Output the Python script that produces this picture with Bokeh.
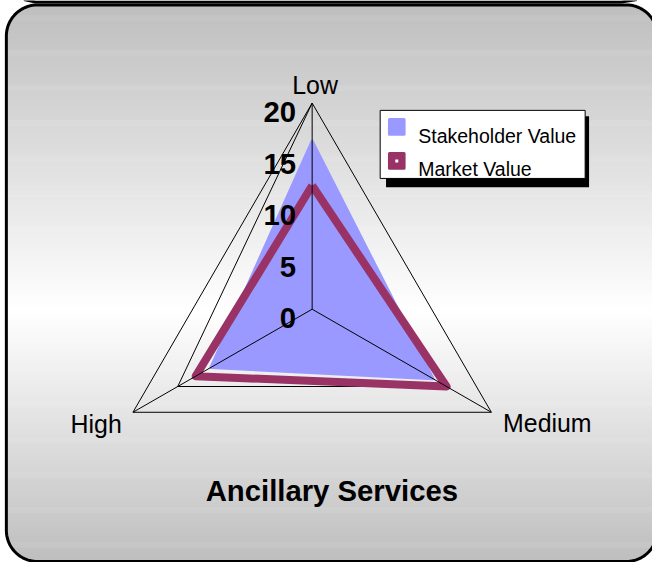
import numpy as np
from bokeh.plotting import figure
from bokeh.models import Range1d
from bokeh.core.properties import value
from bokeh.embed import file_html
from bokeh.resources import INLINE

# ---------------- data ----------------
categories = ["Low", "Medium", "High"]
stakeholder_value = [16.3, 13.5, 11.3]
market_value = [12.0, 15.0, 13.0]
tick_values = [0, 5, 10, 15, 20]
tick_labels = ["0", "5", "10", "15", "20"]
odd_ring = [20, 15, 15]          # partial gridline as drawn in the source (Low, Medium, High)
r_max = 20
series_names = ["Stakeholder Value", "Market Value"]
chart_title = "Ancillary Services"

# ---------------- layout (reference-pixel space 668 x 578) ----------------
W, H = 652, 562
RW, RH = 668.0, 578.0
S = 212.0 / 20.0                 # reference pixels per value unit
CX, CY = 319.3, 317.5            # centre of the radar in reference pixels
angles = np.deg2rad([90.0, -30.0, 210.0])
FONT = value("Liberation Sans")
K = W / RW


def fx(X):
    return (X - CX) / S


def fy(Y):
    return (CY - Y) / S


def fs(px):
    return "%.1fpx" % (px * K)


p = figure(width=W, height=H, output_backend="svg", toolbar_location=None,
           x_range=Range1d(fx(0), fx(RW)), y_range=Range1d(fy(RH), fy(0)),
           x_axis_location=None, y_axis_location=None, min_border=0)
p.grid.visible = False
p.outline_line_color = None
p.background_fill_color = "white"
p.border_fill_color = "white"

# ---------------- frame with vertical gradient ----------------
L, T, R, B, RAD = 6.0, 4.5, 673.0, 577.0, 32.0


def extent(Y):
    if Y < T + RAD:
        dy = T + RAD - Y
        dx = np.sqrt(max(RAD ** 2 - dy ** 2, 0))
        return L + RAD - dx, R - RAD + dx
    if Y > B - RAD:
        dy = Y - (B - RAD)
        dx = np.sqrt(max(RAD ** 2 - dy ** 2, 0))
        return L + RAD - dx, R - RAD + dx
    return L, R


def grad(Y):
    if Y < 320:
        g = 190 + (255 - 190) * (Y - 4) / (320 - 4)
    else:
        g = 255 - (255 - 190) * (Y - 320) / (577 - 320)
    g = int(round(min(max(g, 0), 255)))
    return "#%02x%02x%02x" % (g, g, g)


lefts, rights, tops, bottoms, cols = [], [], [], [], []
for Y in np.arange(T, B, 1.0):
    a, b = extent(Y + 0.5)
    lefts.append(fx(a)); rights.append(fx(b))
    tops.append(fy(Y - 0.3)); bottoms.append(fy(Y + 1.3))
    cols.append(grad(Y + 0.5))
p.quad(left=lefts, right=rights, top=tops, bottom=bottoms,
       fill_color=cols, line_color=None)

bx, by = [], []


def arc(cxp, cyp, a0, a1):
    for t in np.linspace(a0, a1, 20):
        bx.append(fx(cxp + RAD * np.cos(t)))
        by.append(fy(cyp - RAD * np.sin(t)))


arc(R - RAD, T + RAD, np.pi / 2, 0)
arc(R - RAD, B - RAD, 0, -np.pi / 2)
arc(L + RAD, B - RAD, -np.pi / 2, -np.pi)
arc(L + RAD, T + RAD, np.pi, np.pi / 2)
p.patch(bx, by, fill_color=None, line_color="black", line_width=3)

# edge of the shape above the frame
p.line([fx(24), fx(36), fx(636), fx(652)], [fy(-1), fy(1.5), fy(1.5), fy(-1)],
       line_color="black", line_width=3)

# ---------------- radar grid ----------------
ca, sa = np.cos(angles), np.sin(angles)
outer_x = list(r_max * ca) + [r_max * ca[0]]
outer_y = list(r_max * sa) + [r_max * sa[0]]
p.line(outer_x, outer_y, line_color="black", line_width=1)

order = [0, 2, 1]  # Low -> High -> Medium
p.line([odd_ring[i] * ca[i] for i in order], [odd_ring[i] * sa[i] for i in order],
       line_color="black", line_width=1)

# ---------------- series ----------------
sv = np.array(stakeholder_value)
p.patch(list(sv * ca), list(sv * sa), fill_color="#9999FF", line_color="#9999FF",
        line_width=3, line_join="round")

mv = np.array(market_value)
p.line(list(mv * ca) + [mv[0] * ca[0]], list(mv * sa) + [mv[0] * sa[0]],
       line_color="#993366", line_width=8, line_join="round")

p.multi_line([[0, r_max * c] for c in ca], [[0, r_max * s] for s in sa],
             line_color="black", line_width=1)

# ---------------- tick labels ----------------
p.text(x=[fx(CX - 16.5)] * len(tick_values),
       y=[v - 9.5 / S for v in tick_values], text=tick_labels,
       text_font=FONT, text_font_size=fs(30), text_font_style="bold",
       text_align="right", text_baseline="alphabetic", text_color="black")

# ---------------- category labels ----------------
off = {"Low": (3.0, -19.0, "center"), "Medium": (12.0, 11.5, "left"), "High": (-11.5, 11.7, "right")}
for i, c in enumerate(categories):
    dx, dy, al = off[c]
    p.text(x=[r_max * ca[i] + dx / S], y=[r_max * sa[i] - dy / S], text=[c],
           text_font=FONT, text_font_size=fs(25.5), text_align=al,
           text_baseline="alphabetic", text_color="black")

# ---------------- title ----------------
p.text(x=[fx(339.5)], y=[fy(504)], text=[chart_title], text_font=FONT,
       text_font_size=fs(30), text_font_style="bold", text_align="center",
       text_baseline="alphabetic", text_color="black")

# ---------------- legend ----------------
p.quad(left=[fx(395)], right=[fx(603)], top=[fy(119)], bottom=[fy(192)],
       fill_color="black", line_color=None)
p.quad(left=[fx(389)], right=[fx(599)], top=[fy(113)], bottom=[fy(183)],
       fill_color="white", line_color="black", line_width=1)
p.scatter(x=[fx(406)], y=[fy(130)], marker="square", size=15 * K,
          fill_color="#9999FF", line_color="#9999FF", line_width=3, line_join="round")
p.scatter(x=[fx(406)], y=[fy(165)], marker="square", size=15 * K,
          fill_color="#993366", line_color="#993366", line_width=3, line_join="round")
p.scatter(x=[fx(406)], y=[fy(165)], marker="square", size=3,
          fill_color="white", line_color=None)
p.text(x=[fx(428)] * 2, y=[fy(139), fy(173)], text=series_names,
       text_font=FONT, text_font_size=fs(20), text_align="left",
       text_baseline="alphabetic", text_color="black")

open("out.html", "w").write(file_html(p, INLINE))
